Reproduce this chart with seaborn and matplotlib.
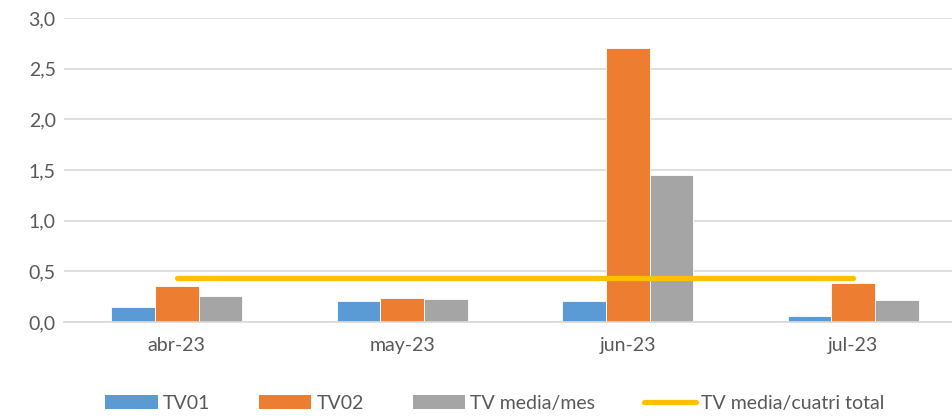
import matplotlib.pyplot as plt
import matplotlib.ticker as mticker
import numpy as np
import pandas as pd
import seaborn as sns
from matplotlib.lines import Line2D
from matplotlib.patches import Patch

months = ["abr-23", "may-23", "jun-23", "jul-23"]
tv01 = [0.15, 0.21, 0.21, 0.06]
tv02 = [0.36, 0.24, 2.70, 0.38]
tv_media_mes = [0.26, 0.23, 1.45, 0.22]
tv_media_cuatri = [0.43, 0.43, 0.43, 0.43]

series_names = ["TV01", "TV02", "TV media/mes"]
bar_colors = ["#5B9BD5", "#ED7D31", "#A5A5A5"]
line_color = "#FFC000"
text_color = "#595959"
grid_color = "#D9D9D9"

df = pd.DataFrame({
    "mes": months * 3,
    "serie": [s for s in series_names for _ in months],
    "valor": tv01 + tv02 + tv_media_mes,
})

sns.set_style("white")
plt.rcParams["font.family"] = ["Lato", "DejaVu Sans"]

fig = plt.figure(figsize=(9.52, 4.19), dpi=100)
# plot area runs a little past the right edge, as in the original export
ax = fig.add_axes([0.0672, 0.2315, 0.9475, 0.7255])

sns.barplot(data=df, x="mes", y="valor", hue="serie", order=months,
            hue_order=series_names, palette=bar_colors, saturation=1,
            width=0.58, gap=0, errorbar=None, legend=False, ax=ax,
            linewidth=0.6, edgecolor="white", zorder=2)
ax.plot(np.arange(len(months)), tv_media_cuatri, color=line_color,
        linewidth=3.8, solid_capstyle="round", zorder=3)

ax.set_xlim(-0.5, len(months) - 0.5)
ax.set_ylim(0, 3.0)
ax.yaxis.set_major_locator(mticker.MultipleLocator(0.5))
ax.yaxis.set_major_formatter(
    mticker.FuncFormatter(lambda v, _: f"{v:.1f}".replace(".", ",")))
ax.set_xlabel("")
ax.set_ylabel("")

ax.grid(axis="y", color=grid_color, linewidth=1.2, zorder=0)
ax.set_axisbelow(True)
for side in ["top", "right", "left"]:
    ax.spines[side].set_visible(False)
ax.spines["bottom"].set_color(grid_color)
ax.spines["bottom"].set_linewidth(1.2)

ax.set_xticks(np.arange(len(months)))
ax.set_xticklabels(months)
ax.set_xticks(np.arange(-0.5, len(months)), minor=True)
ax.tick_params(axis="x", which="major", length=0, pad=11,
               labelsize=14, labelcolor=text_color)
ax.tick_params(axis="x", which="minor", length=5, width=1.2,
               color=grid_color, direction="out")
ax.tick_params(axis="y", length=0, pad=6, labelsize=14,
               labelcolor=text_color)

handles = [Patch(facecolor=c, edgecolor="none") for c in bar_colors]
handles.append(Line2D([0], [0], color=line_color, linewidth=3.8,
                      solid_capstyle="round"))
labels = series_names + ["TV media/cuatri total"]
fig.legend(handles, labels, loc="lower center", ncol=4, frameon=False,
           bbox_to_anchor=(0.52, -0.025), fontsize=14,
           handlelength=2.7, handleheight=0.72, handletextpad=0.26,
           columnspacing=2.5, labelcolor=text_color)

fig.savefig("out.png", dpi=100)
